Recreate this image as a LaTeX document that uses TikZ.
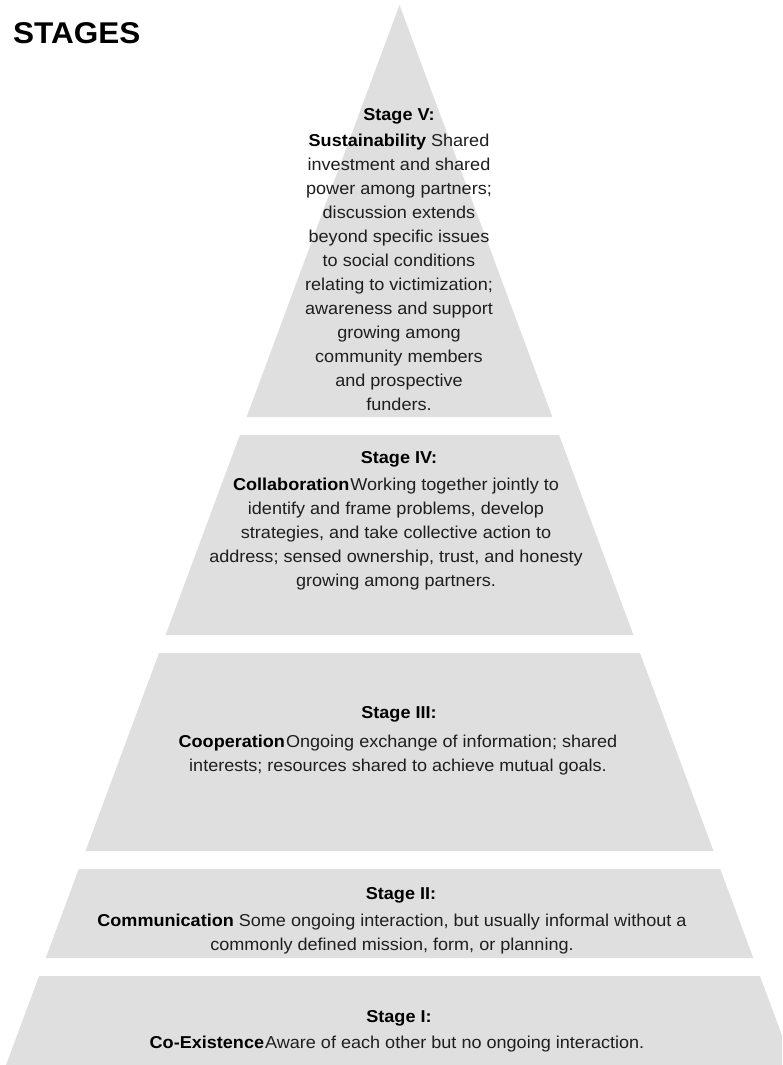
\documentclass[tikz,border=0pt]{standalone}
\usepackage{fontspec}
\newfontfamily\figfont{Liberation Sans}[FakeStretch=1.05]
\begin{document}
\begin{tikzpicture}[x=1pt,y=-1pt,
  band/.style={fill=bandgray,draw=none},
  heading/.style={anchor=base,inner sep=0pt,text=black,
    font={\figfont\bfseries\fontsize{17.2}{24}\selectfont}},
  body/.style={anchor=base,inner sep=0pt,align=center,text=textgray,
    font={\figfont\fontsize{17.2}{24}\selectfont}},
  title/.style={anchor=base west,inner sep=0pt,text=black,
    font={\figfont\bfseries\fontsize{30}{34}\selectfont}}]
\definecolor{bandgray}{HTML}{DFDFDF}
\definecolor{textgray}{HTML}{1E1E1E}
\useasboundingbox (0,0) rectangle (782,1065);
\fill[white] (0,0) rectangle (782,1065);

% pyramid bands: apex (399.5,5), half-width = 0.3712*(y-5)
\begin{scope}
\clip (0,0) rectangle (782,1065);
\path[band] (399.5,5) -- (552.4,417) -- (246.6,417) -- cycle;
\path[band] (239.9,435) -- (559.1,435) -- (633.4,635) -- (165.6,635) -- cycle;
\path[band] (159.0,653) -- (640.0,653) -- (713.5,851) -- (85.5,851) -- cycle;
\path[band] (78.8,869) -- (720.2,869) -- (753.3,958) -- (45.7,958) -- cycle;
\path[band] (39.1,976) -- (759.9,976) -- (793.0,1065) -- (6.0,1065) -- cycle;
\end{scope}

\node[title] (ttl) at (13,44) {STAGES};

% stage V (body nodes are placed by the baseline of their last line)
\node[heading] (h5) at (399,120) {Stage V:};
\node[body] (b5) at (399,410) {\textbf{\color{black}Sustainability} Shared\\
  investment and shared\\power among partners;\\discussion extends\\
  beyond specific issues\\to social conditions\\relating to victimization;\\
  awareness and support\\growing among\\community members\\
  and prospective\\funders.};

% stage IV
\node[heading] (h4) at (399,463) {Stage IV:};
\node[body] (b4) at (396,586) {\textbf{\color{black}Collaboration}\hspace{1pt}Working together jointly to\\
  identify and frame problems, develop\\strategies, and take collective action to\\
  address; sensed ownership, trust, and honesty\\growing among partners.};

% stage III
\node[heading] (h3) at (399,718) {Stage III:};
\node[body] (b3) at (398,771) {\textbf{\color{black}Cooperation}\hspace{1pt}Ongoing exchange of information; shared\\
  interests; resources shared to achieve mutual goals.};

% stage II
\node[heading] (h2) at (401,899) {Stage II:};
\node[body] (b2) at (392,950) {\textbf{\color{black}Communication} Some ongoing interaction, but usually informal without a\\
  commonly defined mission, form, or planning.};

% stage I
\node[heading] (h1) at (399,1022) {Stage I:};
\node[body] (b1) at (397,1048) {\textbf{\color{black}Co-Existence}\hspace{1pt}Aware of each other but no ongoing interaction.};
\end{tikzpicture}
\end{document}
